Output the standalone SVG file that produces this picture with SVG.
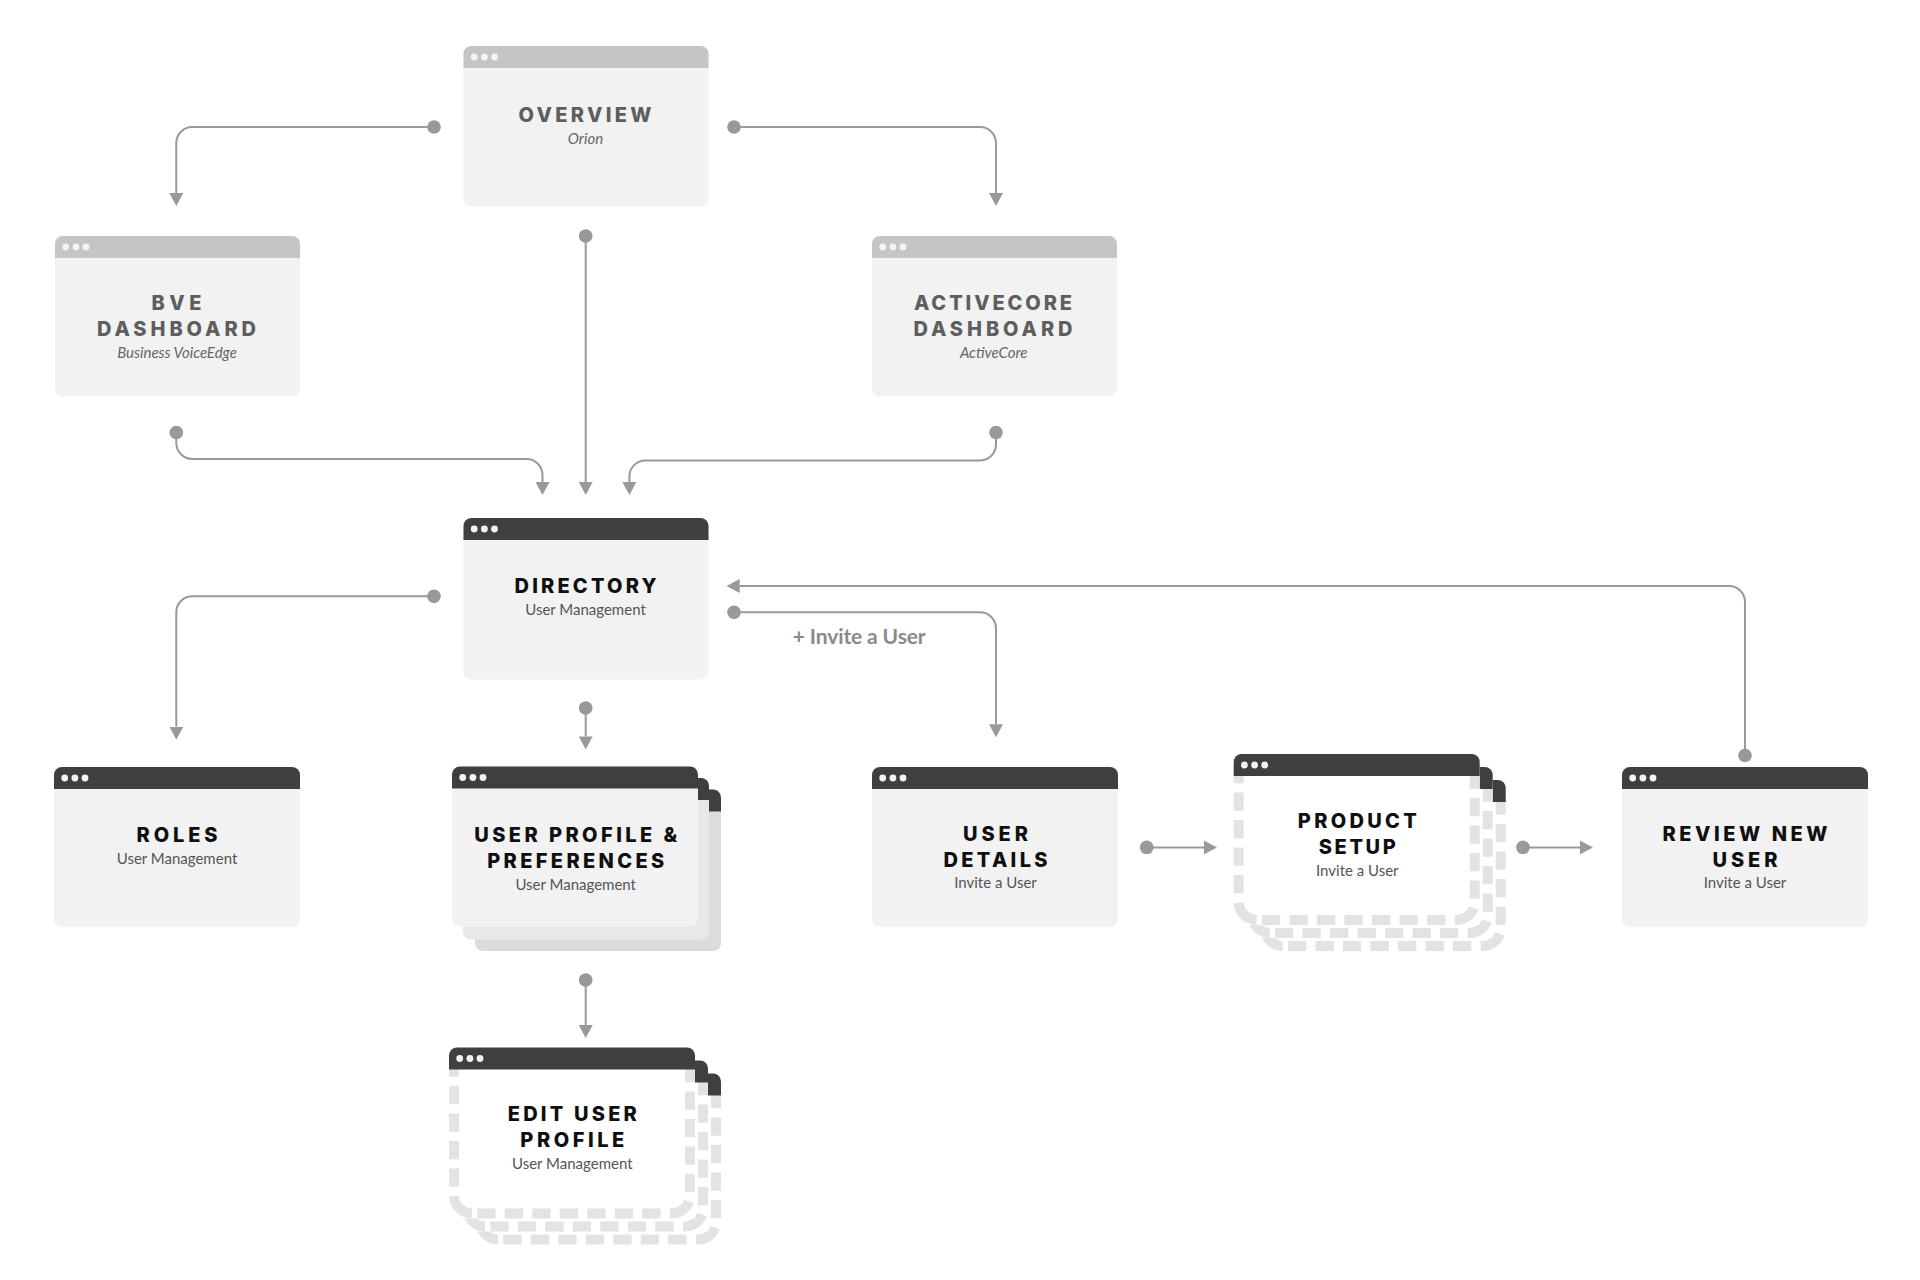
<svg xmlns="http://www.w3.org/2000/svg" xmlns:xlink="http://www.w3.org/1999/xlink" width="1920" height="1280" viewBox="0 0 1920 1280">
<style>
.t{font-family:Inter,"Liberation Sans",sans-serif;font-weight:800;font-size:20px;text-anchor:middle}
.s{font-family:Lato,"Liberation Sans",sans-serif;font-size:15px;text-anchor:middle}
.dk{fill:#0f0f0f}.lt{fill:#5e5e5e}
.sd{fill:#555}.sl{fill:#666;font-style:italic}
.hd{fill:#3f3f3f}.hl{fill:#c6c5c5}
.b{fill:#f2f2f2}
.dot{fill:#f4f4f4}
.c{fill:none;stroke:#999;stroke-width:2;marker-start:url(#d);marker-end:url(#a)}
.ds{fill:none;stroke:#e3e3e3;stroke-width:10}
.dd{stroke-dasharray:18.3 9.2}
#conn text{font-family:Lato,"Liberation Sans",sans-serif;font-size:21px;font-weight:700;fill:#8a8a8a}
</style>
<defs>
<marker id="a" markerUnits="userSpaceOnUse" viewBox="0 0 13 14" markerWidth="13" markerHeight="14" refX="0" refY="7" orient="auto"><path d="M0 0L13 7L0 14Z" fill="#999"/></marker>
<marker id="d" markerUnits="userSpaceOnUse" viewBox="0 0 14 14" markerWidth="14" markerHeight="14" refX="7" refY="7"><circle cx="7" cy="7" r="6.8" fill="#999"/></marker>
<path id="hp" d="M0 22V8A8 8 0 0 1 8 0H238A8 8 0 0 1 246 8V22Z"/>
<path id="hq" d="M0 22V8A8 8 0 0 1 8 0H237A8 8 0 0 1 245 8V22Z"/>
<g id="dots" class="dot"><circle cx="10.7" cy="11" r="3.4"/><circle cx="20.9" cy="11" r="3.4"/><circle cx="31" cy="11" r="3.4"/></g>
<g id="win-l"><rect class="b" width="245" height="160.500" rx="8"/><use href="#hq" class="hl"/><use href="#dots"/></g>
<g id="win-m"><rect class="b" width="245" height="161.500" rx="8"/><use href="#hq" class="hd"/><use href="#dots"/></g>
<g id="win-d"><rect class="b" width="246" height="160" rx="8"/><use href="#hp" class="hd"/><use href="#dots"/></g>
<g id="frame">
<rect width="246" height="171" fill="#fff"/>
<path class="ds dd" d="M5 11V148"/>
<path class="ds" d="M5 148.700A18 18 0 0 0 23 166"/>
<path class="ds dd" d="M28.300 166H212"/>
<path class="ds" d="M221 166H223A18 18 0 0 0 240 154"/>
<path class="ds dd" d="M241 144.700V10"/>
<use href="#hp" class="hd"/>
</g>
</defs>
<rect width="1920" height="1280" fill="#fff"/>
<g id="conn">
<path class="c" d="M434 127H192.300A16 16 0 0 0 176.300 143V193"/>
<path class="c" d="M734 127H980A16 16 0 0 1 996 143V193"/>
<path class="c" d="M585.700 236V482"/>
<path class="c" d="M176.300 432.500V443A16 16 0 0 0 192.300 459H526.500A16 16 0 0 1 542.500 475V482"/>
<path class="c" d="M996 432.500V444.400A16 16 0 0 1 980 460.400H645.400A16 16 0 0 0 629.400 476.400V482"/>
<path class="c" d="M434 596.300H192.300A16 16 0 0 0 176.300 612.300V726.600"/>
<path class="c" d="M734 612.300H980A16 16 0 0 1 996 628.300V724.300"/>
<path class="c" d="M1745 755.500V602A16 16 0 0 0 1729 586H739.700"/>
<path class="c" d="M585.700 708V736.400"/>
<path class="c" d="M585.700 980V1025"/>
<path class="c" d="M1146.700 847.400H1204"/>
<path class="c" d="M1523 847.400H1580"/>
<text x="792.700" y="644" textLength="133">+ Invite a User</text>
</g>
<g id="overview"><use href="#win-l" x="463.500" y="46"/>
<text class="t lt" x="585" y="122" textLength="133">OVERVIEW</text>
<text class="s sl" x="585.500" y="143.800">Orion</text></g>
<g id="bve"><use href="#win-l" x="55" y="236"/>
<text class="t lt" x="176.500" y="309.800" textLength="50">BVE</text>
<text class="t lt" x="176.500" y="335.800" textLength="159">DASHBOARD</text>
<text class="s sl" x="177" y="357.800">Business VoiceEdge</text></g>
<g id="activecore"><use href="#win-l" x="872" y="236"/>
<text class="t lt" x="993" y="309.800" textLength="158">ACTIVECORE</text>
<text class="t lt" x="993" y="335.800" textLength="159">DASHBOARD</text>
<text class="s sl" x="993.700" y="357.800">ActiveCore</text></g>
<g id="directory"><use href="#win-m" x="463.500" y="518"/>
<text class="t dk" x="585.500" y="593.300" textLength="142">DIRECTORY</text>
<text class="s sd" x="585.500" y="614.800">User Management</text></g>
<g id="roles"><use href="#win-d" x="54" y="767"/>
<text class="t dk" x="177" y="842" textLength="81">ROLES</text>
<text class="s sd" x="177" y="863.500">User Management</text></g>
<g id="user-profile">
<rect x="475" y="791" width="246" height="160" rx="8" fill="#dcdcdc"/><use href="#hp" class="hd" x="475" y="789.500"/>
<rect x="463" y="779" width="246" height="160.500" rx="8" fill="#e8e8e8"/><use href="#hp" class="hd" x="463" y="778"/>
<use href="#win-d" x="452" y="766.500"/>
<text class="t dk" x="575.700" y="842" textLength="203">USER PROFILE &amp;</text>
<text class="t dk" x="575.700" y="867.800" textLength="177">PREFERENCES</text>
<text class="s sd" x="575.700" y="889.500">User Management</text></g>
<g id="edit-user-profile">
<use href="#frame" x="475" y="1073.500"/><use href="#frame" x="462" y="1060.500"/><use href="#frame" x="449" y="1047.500"/><use href="#dots" x="449" y="1047.500"/>
<text class="t dk" x="572.300" y="1121" textLength="129">EDIT USER</text>
<text class="t dk" x="572.300" y="1147" textLength="104">PROFILE</text>
<text class="s sd" x="572.300" y="1169">User Management</text></g>
<g id="user-details"><use href="#win-d" x="872" y="767"/>
<text class="t dk" x="995.500" y="841" textLength="65">USER</text>
<text class="t dk" x="995.500" y="866.500" textLength="104">DETAILS</text>
<text class="s sd" x="995.500" y="888">Invite a User</text></g>
<g id="product-setup">
<use href="#frame" x="1259.700" y="780"/><use href="#frame" x="1246.700" y="767"/><use href="#frame" x="1233.700" y="754"/><use href="#dots" x="1233.700" y="754"/>
<text class="t dk" x="1357.300" y="828" textLength="119">PRODUCT</text>
<text class="t dk" x="1357.300" y="854" textLength="77">SETUP</text>
<text class="s sd" x="1357.300" y="875.500">Invite a User</text></g>
<g id="review-new-user"><use href="#win-d" x="1622" y="767"/>
<text class="t dk" x="1745" y="841" textLength="165">REVIEW NEW</text>
<text class="t dk" x="1745" y="866.500" textLength="65">USER</text>
<text class="s sd" x="1745" y="888">Invite a User</text></g>
</svg>
